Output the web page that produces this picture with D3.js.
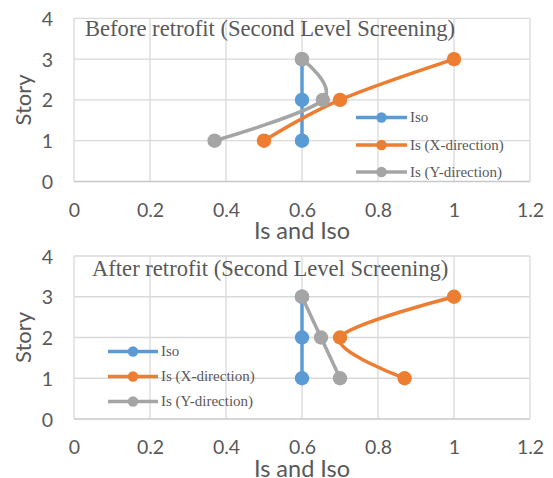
<!DOCTYPE html>
<html>
<head>
<meta charset="utf-8">
<script src="https://cdn.jsdelivr.net/npm/d3@7"></script>
<style>
  html, body { margin: 0; padding: 0; background: #fff; }
  svg { display: block; }
</style>
</head>
<body>
<svg id="chart" width="553" height="478"></svg>
<script>
// ---- data ----
const stories = [1, 2, 3];
const seriesNames = ["Iso", "Is (X-direction)", "Is (Y-direction)"];
const seriesColors = ["#5B9BD5", "#ED7D31", "#A5A5A5"];
const isoBefore = [0.6, 0.6, 0.6];
const isXBefore = [0.5, 0.7, 1.0];
const isYBefore = [0.37, 0.655, 0.6];
const isoAfter = [0.6, 0.6, 0.6];
const isXAfter = [0.87, 0.7, 1.0];
const isYAfter = [0.7, 0.65, 0.6];
const xTicks = [0, 0.2, 0.4, 0.6, 0.8, 1, 1.2];
const yTicks = [0, 1, 2, 3, 4];
const xTickLabels = ["0", "0.2", "0.4", "0.6", "0.8", "1", "1.2"];
const titles = ["Before retrofit (Second Level Screening)", "After retrofit (Second Level Screening)"];
const xTitle = "Is and Iso";
const yTitle = "Story";

const panels = [
  { title: titles[0], series: [isoBefore, isXBefore, isYBefore], top: 18.3, bottom: 181.5,
    titleX: 85, titleY: 36, legX: 356, legY: [117.5, 145, 172], legLen: 51 },
  { title: titles[1], series: [isoAfter, isXAfter, isYAfter], top: 256, bottom: 419,
    titleX: 92, titleY: 276, legX: 108, legY: [351.5, 376.5, 401.5], legLen: 50 }
];

const svg = d3.select("#chart");
const textColor = "#595959";
const sansFont = "Lato, 'Open Sans', sans-serif";
const serifFont = "'Liberation Serif', 'Times New Roman', serif";
const left = 74, right = 530;

panels.forEach((p, pi) => {
  const g = svg.append("g");
  const x = d3.scaleLinear().domain([0, 1.2]).range([left, right]);
  const y = d3.scaleLinear().domain([0, 4]).range([p.bottom, p.top]);

  // gridlines
  g.append("g").selectAll("line.h").data(yTicks.filter(d => d > 0)).join("line")
    .attr("x1", left).attr("x2", right)
    .attr("y1", d => y(d)).attr("y2", d => y(d))
    .attr("stroke", "#D9D9D9").attr("stroke-width", 1.3);
  g.append("g").selectAll("line.v").data(xTicks).join("line")
    .attr("x1", d => x(d)).attr("x2", d => x(d))
    .attr("y1", p.top).attr("y2", p.bottom)
    .attr("stroke", "#D9D9D9").attr("stroke-width", 1.3);
  // bottom axis line
  g.append("line").attr("x1", left).attr("x2", right)
    .attr("y1", y(0)).attr("y2", y(0))
    .attr("stroke", "#C8C8C8").attr("stroke-width", 1.4);

  // x axis labels
  const xAxis = d3.axisBottom(x).tickValues(xTicks)
    .tickFormat((d, i) => xTickLabels[i]).tickSize(0).tickPadding(0);
  const xa = g.append("g").attr("transform", `translate(0,${p.bottom})`).call(xAxis);
  xa.select(".domain").remove();
  xa.selectAll("text").attr("dy", null).attr("y", 35)
    .attr("fill", textColor).style("font-family", sansFont).style("font-size", "19.5px");

  // y axis labels
  const yAxis = d3.axisLeft(y).tickValues(yTicks).tickFormat(d3.format("d")).tickSize(0).tickPadding(0);
  const ya = g.append("g").attr("transform", `translate(53,0)`).call(yAxis);
  ya.select(".domain").remove();
  ya.selectAll("text").attr("x", 0).attr("dy", "0.36em")
    .attr("fill", textColor).style("font-family", sansFont).style("font-size", "19.5px");

  // axis titles
  g.append("text").attr("x", (left + right) / 2).attr("y", p.bottom + 57.5)
    .attr("text-anchor", "middle").attr("fill", textColor)
    .style("font-family", sansFont).style("font-size", "23.5px").text(xTitle);
  g.append("text")
    .attr("transform", `translate(31,${(p.top + p.bottom) / 2}) rotate(-90)`)
    .attr("text-anchor", "middle").attr("fill", textColor)
    .style("font-family", sansFont).style("font-size", "22px").text(yTitle);

  // chart title
  g.append("text").attr("x", p.titleX).attr("y", p.titleY)
    .attr("fill", textColor).style("font-family", serifFont).style("font-size", "22.6px")
    .text(p.title);

  // series
  const line = d3.line().x(d => x(d[0])).y(d => y(d[1])).curve(d3.curveCatmullRom.alpha(0));
  p.series.forEach((vals, si) => {
    const pts = vals.map((v, i) => [v, stories[i]]);
    g.append("path").datum(pts).attr("d", line)
      .attr("fill", "none").attr("stroke", seriesColors[si]).attr("stroke-width", 3.5)
      .attr("stroke-linecap", "round");
    g.append("g").selectAll("circle").data(pts).join("circle")
      .attr("cx", d => x(d[0])).attr("cy", d => y(d[1])).attr("r", 7.2)
      .attr("fill", seriesColors[si]);
  });

  // legend
  const leg = g.append("g");
  seriesNames.forEach((name, si) => {
    const ly = p.legY[si];
    leg.append("line").attr("x1", p.legX).attr("x2", p.legX + p.legLen)
      .attr("y1", ly).attr("y2", ly)
      .attr("stroke", seriesColors[si]).attr("stroke-width", 3.5);
    leg.append("circle").attr("cx", p.legX + p.legLen / 2).attr("cy", ly).attr("r", 5.2)
      .attr("fill", seriesColors[si]);
    leg.append("text").attr("x", p.legX + p.legLen + 3).attr("y", ly).attr("dy", "0.33em")
      .attr("fill", textColor).style("font-family", serifFont).style("font-size", "15px")
      .text(name);
  });
});
</script>
</body>
</html>
